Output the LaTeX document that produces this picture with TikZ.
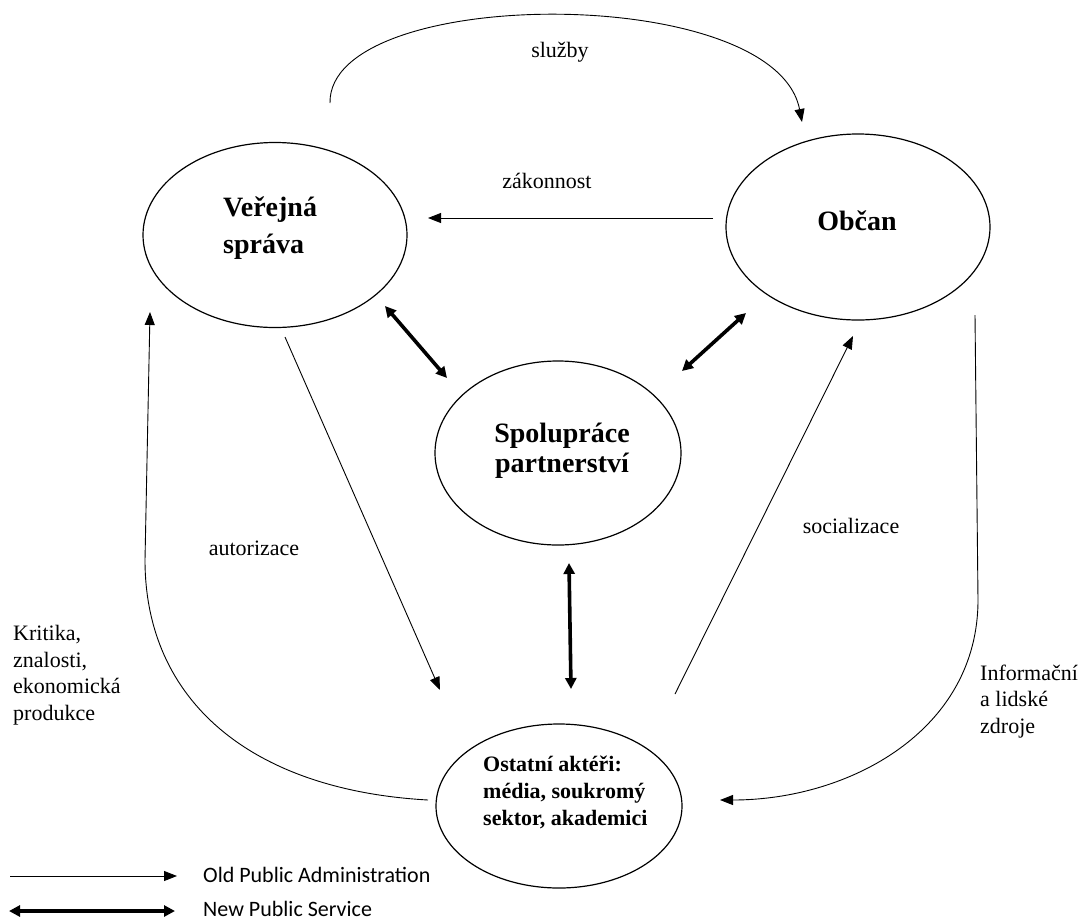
\documentclass[tikz,border=0pt]{standalone}
\usepackage{fontspec}
\setmainfont{Liberation Serif}
\newfontfamily\legendfont{Carlito}
\usetikzlibrary{arrows.meta,shapes.geometric}
\begin{document}
\begin{tikzpicture}[x=1pt,y=-1pt,
  oval/.style={draw,ellipse,line width=1.2pt,inner sep=0pt},
  bigtxt/.style={font=\fontsize{28}{30}\selectfont\bfseries,inner sep=0pt},
  midtxt/.style={font=\fontsize{22}{27}\selectfont\bfseries,inner sep=0pt},
  lbl/.style={font=\fontsize{22}{26.5}\selectfont,inner sep=0pt},
  leg/.style={font=\fontsize{22}{26}\selectfont\legendfont,inner sep=0pt,anchor=west},
  oldarr/.style={line width=0.9pt,-{Triangle[length=13pt,width=10pt]}},
  newarr/.style={line width=3.6pt,{Triangle[length=11pt,width=11pt]}-{Triangle[length=11pt,width=11pt]}}
]
\useasboundingbox (0,0) rectangle (1079,922);

% ellipses
\node[oval,minimum width=264pt,minimum height=185pt] (vs) at (275,235) {};
\node[oval,minimum width=264pt,minimum height=186pt] (ob) at (858,227) {};
\node[oval,minimum width=246pt,minimum height=184pt] (sp) at (558,453) {};
\node[oval,minimum width=246pt,minimum height=164pt] (oa) at (559,806) {};

% ellipse texts (base = baseline of last line)
\node[bigtxt,anchor=base west,align=left,font=\fontsize{28}{37}\selectfont\bfseries] (vst) at (223,253) {Veřejná\\správa};
\node[bigtxt,anchor=base] (obt) at (857,230) {Občan};
\node[bigtxt,anchor=base,align=center] (spt) at (562,472) {Spolupráce\\partnerství};
\node[midtxt,anchor=base west,align=left] (oat) at (483,825) {Ostatní aktéři:\\média, soukromý\\sektor, akademici};

% coordinates for connector ends
\coordinate (sA) at (330,103);
\coordinate (sB) at (802,122);
\coordinate (zA) at (713,218);
\coordinate (zB) at (428,218);
\coordinate (t1a) at (385,306);
\coordinate (t1b) at (447,378);
\coordinate (t2a) at (682,371);
\coordinate (t2b) at (746,313);
\coordinate (t3a) at (569,563);
\coordinate (t3b) at (571,689);
\coordinate (aA) at (285,337);
\coordinate (aB) at (440,690);
\coordinate (cA) at (675,694);
\coordinate (cB) at (853,336);
\coordinate (lA) at (428,800);
\coordinate (lB) at (150,312);
\coordinate (rA) at (975,315);
\coordinate (rB) at (720,800);

% služby arc
\draw[oldarr] (sA) .. controls (328,-15) and (775,-18) .. (sB);
\node[lbl] (sl) at (560,52) {služby};

% zákonnost
\draw[oldarr] (zA) -- (zB);
\node[lbl] (zk) at (547,181) {zákonnost};

% thick arrows
\draw[newarr] (t1a) -- (t1b);
\draw[newarr] (t2a) -- (t2b);
\draw[newarr] (t3a) -- (t3b);

% autorizace / socializace
\draw[oldarr] (aA) -- (aB);
\node[lbl] (au) at (254,548) {autorizace};
\draw[oldarr] (cA) -- (cB);
\node[lbl] (so) at (851,526) {socializace};

% big side curves
\draw[oldarr] (lA) .. controls (250,790) and (145,700) .. (145,560) -- (lB);
\draw[oldarr] (rA) -- (978,600) .. controls (978,730) and (850,800) .. (rB);

% side labels
\node[lbl,anchor=base west,align=left] (kr) at (13,720) {Kritika,\\znalosti,\\ekonomická\\produkce};
\node[lbl,anchor=base west,align=left] (inf) at (980,733) {Informační\\a lidské\\zdroje};

% legend
\coordinate (l1a) at (10,876);
\coordinate (l1b) at (177,876);
\coordinate (l2a) at (9,911);
\coordinate (l2b) at (175,911);
\draw[oldarr] (l1a) -- (l1b);
\draw[newarr] (l2a) -- (l2b);
\node[leg] (lg1) at (203,875) {Old Public Administration};
\node[leg] (lg2) at (203,909) {New Public Service};
\end{tikzpicture}
\end{document}
